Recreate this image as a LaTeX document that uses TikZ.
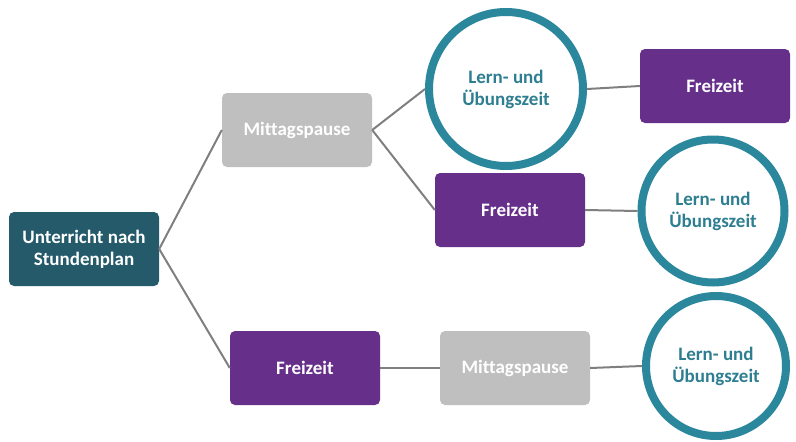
\documentclass[tikz,border=0pt]{standalone}
\usepackage{fontspec}
\setmainfont{Carlito}[Ligatures={NoCommon}]
\usepackage{tikz}
\usetikzlibrary{positioning}

\definecolor{startteal}{HTML}{245A6A}
\definecolor{pausegray}{HTML}{BFBFBF}
\definecolor{freipurple}{HTML}{66308A}
\definecolor{ringblue}{HTML}{2B879C}
\definecolor{ringtext}{HTML}{2E7E91}
\definecolor{linkgray}{HTML}{7F7F7F}

\tikzset{
  box/.style={rounded corners=5pt, minimum width=150pt, minimum height=74pt,
    align=center, text=white, inner sep=2pt,
    font=\bfseries\fontsize{19}{22}\selectfont},
  startbox/.style={box, fill=startteal},
  pausebox/.style={box, fill=pausegray},
  freibox/.style={box, fill=freipurple},
  ring/.style={circle, draw=ringblue, fill=white, line width=8pt, inner sep=0pt,
    align=center, text=ringtext, font=\bfseries\fontsize{19}{22}\selectfont},
  link/.style={draw=linkgray, line width=2pt}
}

\begin{document}
\begin{tikzpicture}[x=1pt, y=-1pt]
  % Rahmen
  \useasboundingbox (0,0) rectangle (796,442);

  % Start
  \node[startbox] (start) at (84,249) {Unterricht nach\\Stundenplan};

  % oberer Zweig
  \node[pausebox] (pauseA) at (297,130) {Mittagspause};
  \node[ring, minimum size=154pt] (lernA) at (506,89) {Lern- und\\Übungszeit};
  \node[freibox] (freiA) at (715,86) {Freizeit};

  % mittlerer Zweig
  \node[freibox] (freiB) at (510,210) {Freizeit};
  \node[ring, minimum size=143pt] (lernB) at (713,211) {Lern- und\\Übungszeit};

  % unterer Zweig
  \node[freibox] (freiC) at (305,368) {Freizeit};
  \node[pausebox] (pauseC) at (515,368) {Mittagspause};
  \node[ring, minimum size=140pt] (lernC) at (716,366) {Lern- und\\Übungszeit};

  % Verbindungen
  \draw[link] (start.east) -- (pauseA.west);
  \draw[link] (start.east) -- (freiC.west);
  \draw[link] (pauseA.east) -- (lernA.west);
  \draw[link] (pauseA.east) -- (freiB.west);
  \draw[link] (lernA.east) -- (freiA.west);
  \draw[link] (freiB.east) -- (lernB.west);
  \draw[link] (freiC.east) -- (pauseC.west);
  \draw[link] (pauseC.east) -- (lernC.west);
\end{tikzpicture}
\end{document}
